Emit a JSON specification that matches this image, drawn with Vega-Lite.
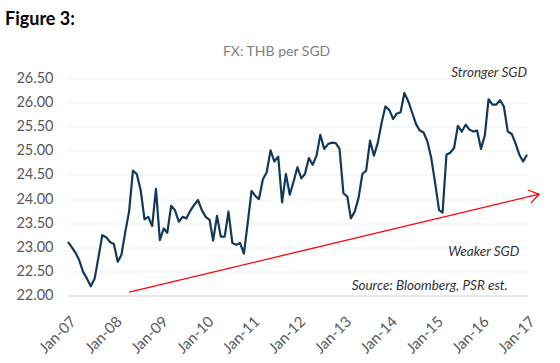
{
  "$schema": "https://vega.github.io/schema/vega-lite/v6.json",
  "width": 459,
  "height": 217,
  "autosize": "none",
  "padding": {"left": 68, "top": 78.5, "right": 33, "bottom": 67.5},
  "background": "white",
  "config": {
    "view": {"stroke": null},
    "font": "Lato",
    "axis": {"labelFont": "Lato"},
    "axisX": {"labelAngle": -45, "labelAlign": "right", "labelBaseline": "top", "labelPadding": 18, "labelFontSize": 15, "labelColor": "#595959", "labelOverlap": false, "labelFlush": false, "ticks": false, "grid": false, "domainColor": "#d9d9d9", "domainWidth": 1},
    "axisY": {"labelFontSize": 14.5, "labelColor": "#595959", "labelPadding": 15, "labelOverlap": false, "ticks": false, "domain": false, "grid": true, "gridColor": "#efefef", "gridWidth": 1}
  },
  "title": {
    "text": "Figure 3:",
    "anchor": "start",
    "frame": "group",
    "dx": -63,
    "offset": 2,
    "baseline": "alphabetic",
    "font": "Lato",
    "fontSize": 18,
    "fontWeight": "bold",
    "color": "#000000"
  },
  "datasets": {
    "fx": [
      {"date": "2007-01-01", "value": 23.11},
      {"date": "2007-02-01", "value": 23.00},
      {"date": "2007-03-01", "value": 22.89},
      {"date": "2007-04-01", "value": 22.73},
      {"date": "2007-05-01", "value": 22.49},
      {"date": "2007-06-01", "value": 22.35},
      {"date": "2007-07-01", "value": 22.19},
      {"date": "2007-08-01", "value": 22.35},
      {"date": "2007-09-01", "value": 22.80},
      {"date": "2007-10-01", "value": 23.25},
      {"date": "2007-11-01", "value": 23.21},
      {"date": "2007-12-01", "value": 23.11},
      {"date": "2008-01-01", "value": 23.07},
      {"date": "2008-02-01", "value": 22.70},
      {"date": "2008-03-01", "value": 22.84},
      {"date": "2008-04-01", "value": 23.32},
      {"date": "2008-05-01", "value": 23.74},
      {"date": "2008-06-01", "value": 24.59},
      {"date": "2008-07-01", "value": 24.52},
      {"date": "2008-08-01", "value": 24.19},
      {"date": "2008-09-01", "value": 23.58},
      {"date": "2008-10-01", "value": 23.63},
      {"date": "2008-11-01", "value": 23.44},
      {"date": "2008-12-01", "value": 24.21},
      {"date": "2009-01-01", "value": 23.15},
      {"date": "2009-02-01", "value": 23.39},
      {"date": "2009-03-01", "value": 23.30},
      {"date": "2009-04-01", "value": 23.86},
      {"date": "2009-05-01", "value": 23.77},
      {"date": "2009-06-01", "value": 23.53},
      {"date": "2009-07-01", "value": 23.63},
      {"date": "2009-08-01", "value": 23.60},
      {"date": "2009-09-01", "value": 23.76},
      {"date": "2009-10-01", "value": 23.88},
      {"date": "2009-11-01", "value": 23.98},
      {"date": "2009-12-01", "value": 23.77},
      {"date": "2010-01-01", "value": 23.63},
      {"date": "2010-02-01", "value": 23.57},
      {"date": "2010-03-01", "value": 23.14},
      {"date": "2010-04-01", "value": 23.65},
      {"date": "2010-05-01", "value": 23.22},
      {"date": "2010-06-01", "value": 23.22},
      {"date": "2010-07-01", "value": 23.74},
      {"date": "2010-08-01", "value": 23.09},
      {"date": "2010-09-01", "value": 23.05},
      {"date": "2010-10-01", "value": 23.09},
      {"date": "2010-11-01", "value": 22.87},
      {"date": "2010-12-01", "value": 23.50},
      {"date": "2011-01-01", "value": 24.17},
      {"date": "2011-02-01", "value": 24.06},
      {"date": "2011-03-01", "value": 24.00},
      {"date": "2011-04-01", "value": 24.41},
      {"date": "2011-05-01", "value": 24.55},
      {"date": "2011-06-01", "value": 25.01},
      {"date": "2011-07-01", "value": 24.78},
      {"date": "2011-08-01", "value": 24.88},
      {"date": "2011-09-01", "value": 23.93},
      {"date": "2011-10-01", "value": 24.52},
      {"date": "2011-11-01", "value": 24.09},
      {"date": "2011-12-01", "value": 24.36},
      {"date": "2012-01-01", "value": 24.66},
      {"date": "2012-02-01", "value": 24.43},
      {"date": "2012-03-01", "value": 24.52},
      {"date": "2012-04-01", "value": 24.85},
      {"date": "2012-05-01", "value": 24.71},
      {"date": "2012-06-01", "value": 24.90},
      {"date": "2012-07-01", "value": 25.33},
      {"date": "2012-08-01", "value": 25.04},
      {"date": "2012-09-01", "value": 25.14},
      {"date": "2012-10-01", "value": 25.17},
      {"date": "2012-11-01", "value": 25.16},
      {"date": "2012-12-01", "value": 25.04},
      {"date": "2013-01-01", "value": 24.12},
      {"date": "2013-02-01", "value": 24.05},
      {"date": "2013-03-01", "value": 23.60},
      {"date": "2013-04-01", "value": 23.74},
      {"date": "2013-05-01", "value": 24.02},
      {"date": "2013-06-01", "value": 24.52},
      {"date": "2013-07-01", "value": 24.59},
      {"date": "2013-08-01", "value": 25.21},
      {"date": "2013-09-01", "value": 24.90},
      {"date": "2013-10-01", "value": 25.16},
      {"date": "2013-11-01", "value": 25.58},
      {"date": "2013-12-01", "value": 25.92},
      {"date": "2014-01-01", "value": 25.85},
      {"date": "2014-02-01", "value": 25.66},
      {"date": "2014-03-01", "value": 25.77},
      {"date": "2014-04-01", "value": 25.80},
      {"date": "2014-05-01", "value": 26.20},
      {"date": "2014-06-01", "value": 26.03},
      {"date": "2014-07-01", "value": 25.80},
      {"date": "2014-08-01", "value": 25.56},
      {"date": "2014-09-01", "value": 25.42},
      {"date": "2014-10-01", "value": 25.38},
      {"date": "2014-11-01", "value": 25.19},
      {"date": "2014-12-01", "value": 24.85},
      {"date": "2015-01-01", "value": 24.33},
      {"date": "2015-02-01", "value": 23.77},
      {"date": "2015-03-01", "value": 23.72},
      {"date": "2015-04-01", "value": 24.92},
      {"date": "2015-05-01", "value": 24.96},
      {"date": "2015-06-01", "value": 25.06},
      {"date": "2015-07-01", "value": 25.52},
      {"date": "2015-08-01", "value": 25.40},
      {"date": "2015-09-01", "value": 25.54},
      {"date": "2015-10-01", "value": 25.44},
      {"date": "2015-11-01", "value": 25.40},
      {"date": "2015-12-01", "value": 25.42},
      {"date": "2016-01-01", "value": 25.04},
      {"date": "2016-02-01", "value": 25.33},
      {"date": "2016-03-01", "value": 26.07},
      {"date": "2016-04-01", "value": 25.96},
      {"date": "2016-05-01", "value": 25.96},
      {"date": "2016-06-01", "value": 26.05},
      {"date": "2016-07-01", "value": 25.92},
      {"date": "2016-08-01", "value": 25.40},
      {"date": "2016-09-01", "value": 25.35},
      {"date": "2016-10-01", "value": 25.16},
      {"date": "2016-11-01", "value": 24.92},
      {"date": "2016-12-01", "value": 24.78},
      {"date": "2017-01-01", "value": 24.92}
    ],
    "arrow": [
      {"date": "2008-05-01", "value": 22.07},
      {"date": "2017-04-07", "value": 24.10}
    ]
  },
  "layer": [
    {
      "data": {"name": "fx"},
      "mark": {"type": "line", "color": "#12395b", "strokeWidth": 2.2, "strokeJoin": "round"},
      "encoding": {
        "x": {"field": "date", "type": "temporal",
          "scale": {"type": "utc", "domain": [{"year": 2007, "month": 1, "date": 1, "utc": true}, {"year": 2017, "month": 1, "date": 1, "utc": true}]},
          "axis": {"title": null, "values": [{"year": 2007, "month": 1, "date": 1, "utc": true}, {"year": 2008, "month": 1, "date": 1, "utc": true}, {"year": 2009, "month": 1, "date": 1, "utc": true}, {"year": 2010, "month": 1, "date": 1, "utc": true}, {"year": 2011, "month": 1, "date": 1, "utc": true}, {"year": 2012, "month": 1, "date": 1, "utc": true}, {"year": 2013, "month": 1, "date": 1, "utc": true}, {"year": 2014, "month": 1, "date": 1, "utc": true}, {"year": 2015, "month": 1, "date": 1, "utc": true}, {"year": 2016, "month": 1, "date": 1, "utc": true}, {"year": 2017, "month": 1, "date": 1, "utc": true}], "labelExpr": "utcFormat(datum.value, '%b-%y')"}},
        "y": {"field": "value", "type": "quantitative",
          "scale": {"domain": [22, 26.5], "nice": false, "zero": false},
          "axis": {"title": null, "values": [22, 22.5, 23, 23.5, 24, 24.5, 25, 25.5, 26, 26.5], "format": ".2f"}}
      }
    },
    {
      "data": {"name": "arrow"},
      "mark": {"type": "line", "color": "#ff0000", "strokeWidth": 1.3, "clip": false},
      "encoding": {
        "x": {"field": "date", "type": "temporal",
          "scale": {"type": "utc", "domain": [{"year": 2007, "month": 1, "date": 1, "utc": true}, {"year": 2017, "month": 1, "date": 1, "utc": true}]},
          "axis": {"title": null, "values": [{"year": 2007, "month": 1, "date": 1, "utc": true}, {"year": 2008, "month": 1, "date": 1, "utc": true}, {"year": 2009, "month": 1, "date": 1, "utc": true}, {"year": 2010, "month": 1, "date": 1, "utc": true}, {"year": 2011, "month": 1, "date": 1, "utc": true}, {"year": 2012, "month": 1, "date": 1, "utc": true}, {"year": 2013, "month": 1, "date": 1, "utc": true}, {"year": 2014, "month": 1, "date": 1, "utc": true}, {"year": 2015, "month": 1, "date": 1, "utc": true}, {"year": 2016, "month": 1, "date": 1, "utc": true}, {"year": 2017, "month": 1, "date": 1, "utc": true}], "labelExpr": "utcFormat(datum.value, '%b-%y')"}},
        "y": {"field": "value", "type": "quantitative",
          "scale": {"domain": [22, 26.5], "nice": false, "zero": false},
          "axis": {"title": null, "values": [22, 22.5, 23, 23.5, 24, 24.5, 25, 25.5, 26, 26.5], "format": ".2f"}}
      }
    },
    {
      "data": {"name": "arrow"},
      "transform": [{"filter": "datum.value > 24"}],
      "mark": {"type": "point", "shape": "M-0.83,-0.56L0,0L-0.83,0.56", "size": 576, "angle": 346.6, "filled": false, "stroke": "#ff0000", "strokeWidth": 1.3, "opacity": 1, "clip": false},
      "encoding": {
        "x": {"field": "date", "type": "temporal",
          "scale": {"type": "utc", "domain": [{"year": 2007, "month": 1, "date": 1, "utc": true}, {"year": 2017, "month": 1, "date": 1, "utc": true}]},
          "axis": {"title": null, "values": [{"year": 2007, "month": 1, "date": 1, "utc": true}, {"year": 2008, "month": 1, "date": 1, "utc": true}, {"year": 2009, "month": 1, "date": 1, "utc": true}, {"year": 2010, "month": 1, "date": 1, "utc": true}, {"year": 2011, "month": 1, "date": 1, "utc": true}, {"year": 2012, "month": 1, "date": 1, "utc": true}, {"year": 2013, "month": 1, "date": 1, "utc": true}, {"year": 2014, "month": 1, "date": 1, "utc": true}, {"year": 2015, "month": 1, "date": 1, "utc": true}, {"year": 2016, "month": 1, "date": 1, "utc": true}, {"year": 2017, "month": 1, "date": 1, "utc": true}], "labelExpr": "utcFormat(datum.value, '%b-%y')"}},
        "y": {"field": "value", "type": "quantitative",
          "scale": {"domain": [22, 26.5], "nice": false, "zero": false},
          "axis": {"title": null, "values": [22, 22.5, 23, 23.5, 24, 24.5, 25, 25.5, 26, 26.5], "format": ".2f"}}
      }
    },
    {
      "data": {"values": [{"note": "FX: THB per SGD"}]},
      "mark": {"type": "text", "font": "Lato", "fontSize": 14, "color": "#7f7f7f", "align": "center", "baseline": "alphabetic", "clip": false},
      "encoding": {
        "text": {"field": "note"},
        "x": {"datum": 1311033600000, "type": "temporal",
          "scale": {"type": "utc", "domain": [{"year": 2007, "month": 1, "date": 1, "utc": true}, {"year": 2017, "month": 1, "date": 1, "utc": true}]},
          "axis": {"title": null, "values": [{"year": 2007, "month": 1, "date": 1, "utc": true}, {"year": 2008, "month": 1, "date": 1, "utc": true}, {"year": 2009, "month": 1, "date": 1, "utc": true}, {"year": 2010, "month": 1, "date": 1, "utc": true}, {"year": 2011, "month": 1, "date": 1, "utc": true}, {"year": 2012, "month": 1, "date": 1, "utc": true}, {"year": 2013, "month": 1, "date": 1, "utc": true}, {"year": 2014, "month": 1, "date": 1, "utc": true}, {"year": 2015, "month": 1, "date": 1, "utc": true}, {"year": 2016, "month": 1, "date": 1, "utc": true}, {"year": 2017, "month": 1, "date": 1, "utc": true}], "labelExpr": "utcFormat(datum.value, '%b-%y')"}},
        "y": {"datum": 26.967, "type": "quantitative",
          "scale": {"domain": [22, 26.5], "nice": false, "zero": false},
          "axis": {"title": null, "values": [22, 22.5, 23, 23.5, 24, 24.5, 25, 25.5, 26, 26.5], "format": ".2f"}}
      }
    },
    {
      "data": {"values": [{"note": "Stronger SGD"}]},
      "mark": {"type": "text", "font": "Lato", "fontSize": 13.5, "fontStyle": "italic", "color": "#333333", "align": "right", "baseline": "alphabetic", "clip": false},
      "encoding": {
        "text": {"field": "note"},
        "x": {"datum": 1483228800000, "type": "temporal",
          "scale": {"type": "utc", "domain": [{"year": 2007, "month": 1, "date": 1, "utc": true}, {"year": 2017, "month": 1, "date": 1, "utc": true}]},
          "axis": {"title": null, "values": [{"year": 2007, "month": 1, "date": 1, "utc": true}, {"year": 2008, "month": 1, "date": 1, "utc": true}, {"year": 2009, "month": 1, "date": 1, "utc": true}, {"year": 2010, "month": 1, "date": 1, "utc": true}, {"year": 2011, "month": 1, "date": 1, "utc": true}, {"year": 2012, "month": 1, "date": 1, "utc": true}, {"year": 2013, "month": 1, "date": 1, "utc": true}, {"year": 2014, "month": 1, "date": 1, "utc": true}, {"year": 2015, "month": 1, "date": 1, "utc": true}, {"year": 2016, "month": 1, "date": 1, "utc": true}, {"year": 2017, "month": 1, "date": 1, "utc": true}], "labelExpr": "utcFormat(datum.value, '%b-%y')"}},
        "y": {"datum": 26.531, "type": "quantitative",
          "scale": {"domain": [22, 26.5], "nice": false, "zero": false},
          "axis": {"title": null, "values": [22, 22.5, 23, 23.5, 24, 24.5, 25, 25.5, 26, 26.5], "format": ".2f"}}
      }
    },
    {
      "data": {"values": [{"note": "Weaker SGD"}]},
      "mark": {"type": "text", "font": "Lato", "fontSize": 13.5, "fontStyle": "italic", "color": "#333333", "align": "right", "baseline": "alphabetic", "clip": false},
      "encoding": {
        "text": {"field": "note"},
        "x": {"datum": 1477958400000, "type": "temporal",
          "scale": {"type": "utc", "domain": [{"year": 2007, "month": 1, "date": 1, "utc": true}, {"year": 2017, "month": 1, "date": 1, "utc": true}]},
          "axis": {"title": null, "values": [{"year": 2007, "month": 1, "date": 1, "utc": true}, {"year": 2008, "month": 1, "date": 1, "utc": true}, {"year": 2009, "month": 1, "date": 1, "utc": true}, {"year": 2010, "month": 1, "date": 1, "utc": true}, {"year": 2011, "month": 1, "date": 1, "utc": true}, {"year": 2012, "month": 1, "date": 1, "utc": true}, {"year": 2013, "month": 1, "date": 1, "utc": true}, {"year": 2014, "month": 1, "date": 1, "utc": true}, {"year": 2015, "month": 1, "date": 1, "utc": true}, {"year": 2016, "month": 1, "date": 1, "utc": true}, {"year": 2017, "month": 1, "date": 1, "utc": true}], "labelExpr": "utcFormat(datum.value, '%b-%y')"}},
        "y": {"datum": 22.82, "type": "quantitative",
          "scale": {"domain": [22, 26.5], "nice": false, "zero": false},
          "axis": {"title": null, "values": [22, 22.5, 23, 23.5, 24, 24.5, 25, 25.5, 26, 26.5], "format": ".2f"}}
      }
    },
    {
      "data": {"values": [{"note": "Source: Bloomberg, PSR est."}]},
      "mark": {"type": "text", "font": "Lato", "fontSize": 13.5, "fontStyle": "italic", "color": "#333333", "align": "right", "baseline": "alphabetic", "clip": false},
      "encoding": {
        "text": {"field": "note"},
        "x": {"datum": 1470009600000, "type": "temporal",
          "scale": {"type": "utc", "domain": [{"year": 2007, "month": 1, "date": 1, "utc": true}, {"year": 2017, "month": 1, "date": 1, "utc": true}]},
          "axis": {"title": null, "values": [{"year": 2007, "month": 1, "date": 1, "utc": true}, {"year": 2008, "month": 1, "date": 1, "utc": true}, {"year": 2009, "month": 1, "date": 1, "utc": true}, {"year": 2010, "month": 1, "date": 1, "utc": true}, {"year": 2011, "month": 1, "date": 1, "utc": true}, {"year": 2012, "month": 1, "date": 1, "utc": true}, {"year": 2013, "month": 1, "date": 1, "utc": true}, {"year": 2014, "month": 1, "date": 1, "utc": true}, {"year": 2015, "month": 1, "date": 1, "utc": true}, {"year": 2016, "month": 1, "date": 1, "utc": true}, {"year": 2017, "month": 1, "date": 1, "utc": true}], "labelExpr": "utcFormat(datum.value, '%b-%y')"}},
        "y": {"datum": 22.114, "type": "quantitative",
          "scale": {"domain": [22, 26.5], "nice": false, "zero": false},
          "axis": {"title": null, "values": [22, 22.5, 23, 23.5, 24, 24.5, 25, 25.5, 26, 26.5], "format": ".2f"}}
      }
    }
  ]
}
